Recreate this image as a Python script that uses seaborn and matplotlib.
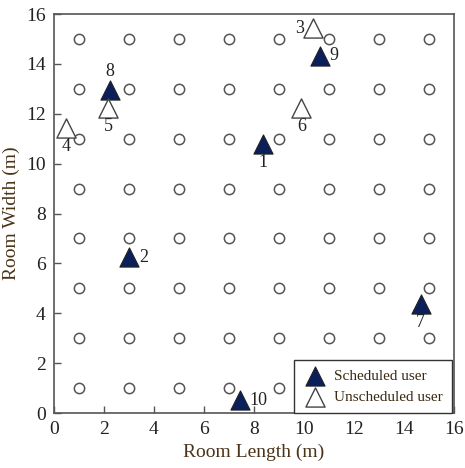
import matplotlib
matplotlib.use("Agg")
import matplotlib.pyplot as plt
import seaborn as sns
import pandas as pd
import numpy as np

# Access-point grid (circles)
grid_x = [1, 3, 5, 7, 9, 11, 13, 15]
grid_y = [1, 3, 5, 7, 9, 11, 13, 15]

# Users
user_ids = [1, 2, 3, 4, 5, 6, 7, 8, 9, 10]
user_x = [8.35, 3.0, 10.36, 0.48, 2.16, 9.9, 14.67, 2.24, 10.64, 7.44]
user_y = [10.8, 6.24, 15.44, 11.44, 12.24, 12.25, 4.36, 12.95, 14.32, 0.52]
user_status = ["Scheduled user", "Scheduled user", "Unscheduled user", "Unscheduled user",
               "Unscheduled user", "Unscheduled user", "Scheduled user", "Scheduled user",
               "Scheduled user", "Scheduled user"]
label_side = ["below", "right", "left", "below", "below", "below", "below", "above", "right", "right"]

x_ticks = [0, 2, 4, 6, 8, 10, 12, 14, 16]
y_ticks = [0, 2, 4, 6, 8, 10, 12, 14, 16]

sns.set_theme(style="white")
plt.rcParams['font.family'] = ['Liberation Serif', 'DejaVu Serif']

fig = plt.figure(figsize=(4.65, 4.68), dpi=100)
ax = fig.add_axes([0.116, 0.1175, 0.86, 0.8525])

gx, gy = np.meshgrid(grid_x, grid_y)
grid_df = pd.DataFrame({"x": gx.ravel(), "y": gy.ravel()})
sns.scatterplot(data=grid_df, x="x", y="y", ax=ax, marker="o", s=55,
                facecolor="white", edgecolor="#555555", linewidth=1.1, legend=False, zorder=2)

users = pd.DataFrame({"id": user_ids, "x": user_x, "y": user_y,
                      "status": user_status, "side": label_side})
sched = users[users.status == "Scheduled user"]
unsched = users[users.status == "Unscheduled user"]
sns.scatterplot(data=sched, x="x", y="y", ax=ax, marker="^", s=190,
                color="#0b1f5a", edgecolor="#222222", linewidth=0.8,
                label="Scheduled user", zorder=3)
sns.scatterplot(data=unsched, x="x", y="y", ax=ax, marker="^", s=190,
                color="white", edgecolor="#444444", linewidth=1.0,
                label="Unscheduled user", zorder=3)

offsets = {"below": (0, -0.75, "center", "center"),
           "above": (0, 0.75, "center", "center"),
           "right": (0.4, 0, "left", "center"),
           "left": (-0.35, 0, "right", "center")}
for _, r in users.iterrows():
    dx, dy, ha, va = offsets[r.side]
    ax.text(r.x + dx, r.y + dy, str(r.id), ha=ha, va=va, fontsize=13,
            color="#222222", zorder=4)

ax.set_xlim(0, 16)
ax.set_ylim(0, 16)
ax.set_xticks(x_ticks)
ax.set_yticks(y_ticks)
ax.tick_params(direction="in", length=5, width=1, color="#555555",
               labelsize=14, labelcolor="#222222", bottom=True, left=True, top=False, right=False, pad=6)
for sp in ax.spines.values():
    sp.set_color("#555555")
    sp.set_linewidth(1.2)

ax.set_xlabel("Room Length (m)", fontsize=14, color="#4a3318")
ax.set_ylabel("Room Width (m)", fontsize=14, color="#4a3318")

leg = ax.legend(loc="lower right", bbox_to_anchor=(0.995, 0.0), frameon=True, fancybox=False,
                framealpha=1.0, fontsize=11, handletextpad=0.5, borderpad=0.6, labelspacing=0.45,
                handlelength=1.5, borderaxespad=0)
leg.set_zorder(10)
leg.get_frame().set_edgecolor("#333333")
leg.get_frame().set_linewidth(1.0)
for t in leg.get_texts():
    t.set_color("#3a2a10")

fig.savefig("out.png", dpi=100)
